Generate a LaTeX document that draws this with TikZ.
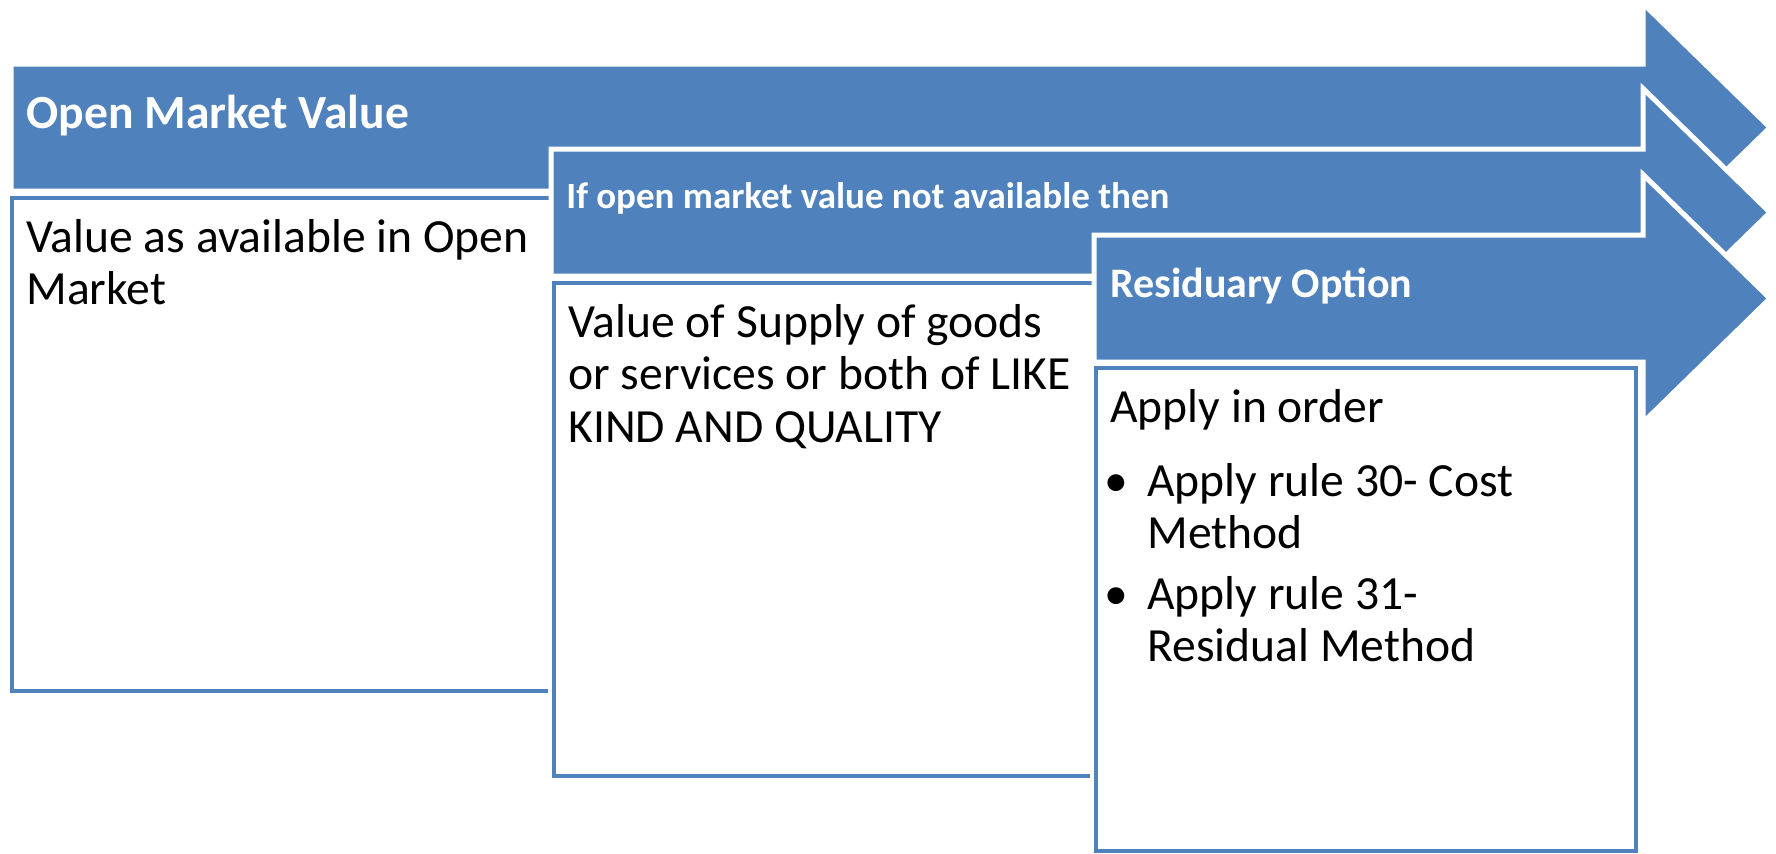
\documentclass[tikz,border=0pt]{standalone}
\usepackage{fontspec}
\setmainfont{Carlito}
\definecolor{valueblue}{RGB}{79,129,189}
% block arrow: shaft starts at x=#1, top edge of the shaft at y=#2
\newcommand{\valuearrow}[2]{%
  \filldraw[blockarrow] (#1,#2) -- (1643,#2) -- (1643,#2-60.5) -- (1770,#2+63.5)
    -- (1643,#2+187.5) -- (1643,#2+127) -- (#1,#2+127) -- cycle;}
% lines hung from the baseline of the first one
\newcommand{\boxlines}[1]{\begin{tabular}[t]{@{}l@{}}#1\end{tabular}}

\begin{document}
\begin{tikzpicture}[x=0.5pt,y=-0.5pt,
    blockarrow/.style={fill=valueblue,draw=white,line width=2.5pt,line join=miter},
    textbox/.style={fill=white,draw=valueblue,line width=2pt,
      preaction={draw=white,line width=6pt}},
    headtext/.style={anchor=base west,inner sep=0pt,text=white,
      font=\bfseries\fontsize{23.8}{28}\selectfont},
    bodytext/.style={anchor=base west,inner sep=0pt,
      font=\fontsize{23.8}{26.25}\selectfont}]
  \useasboundingbox (0,0) rectangle (1776,853);

  % three stages, each arrow laid over the box before it
  \valuearrow{11}{64}
  \draw[textbox] (11.5,198) rectangle (565,691);
  \valuearrow{551}{149}
  \draw[textbox] (553.5,283) rectangle (1105,776);
  \valuearrow{1094}{235}
  \draw[textbox] (1096,368) rectangle (1636,851);

  % headings
  \node[headtext] (omvhead) at (26,128) {Open Market Value};
  \node[headtext,font=\bfseries\fontsize{18.5}{22}\selectfont] (likehead) at (566,208)
    {If open market value not available then};
  \node[headtext,font=\bfseries\fontsize{21}{25}\selectfont] (residhead) at (1110,297)
    {Residuary Option};

  % box texts
  \node[bodytext] (omvtext) at (26,252) {\boxlines{Value as available in Open\\Market}};
  \node[bodytext] (liketext) at (568,337)
    {\boxlines{Value of Supply of goods\\or services or both of LIKE\\KIND AND QUALITY}};
  \node[bodytext] (order) at (1110,422) {Apply in order};
  \node[bodytext] (rulecost) at (1147,496) {\boxlines{Apply rule 30- Cost\\Method}};
  \node[bodytext] (ruleresid) at (1147,609) {\boxlines{Apply rule 31-\\Residual Method}};
  \node[bodytext,anchor=base east] at ([xshift=-9]rulecost.base west) {\textbullet};
  \node[bodytext,anchor=base east] at ([xshift=-9]ruleresid.base west) {\textbullet};
\end{tikzpicture}
\end{document}
